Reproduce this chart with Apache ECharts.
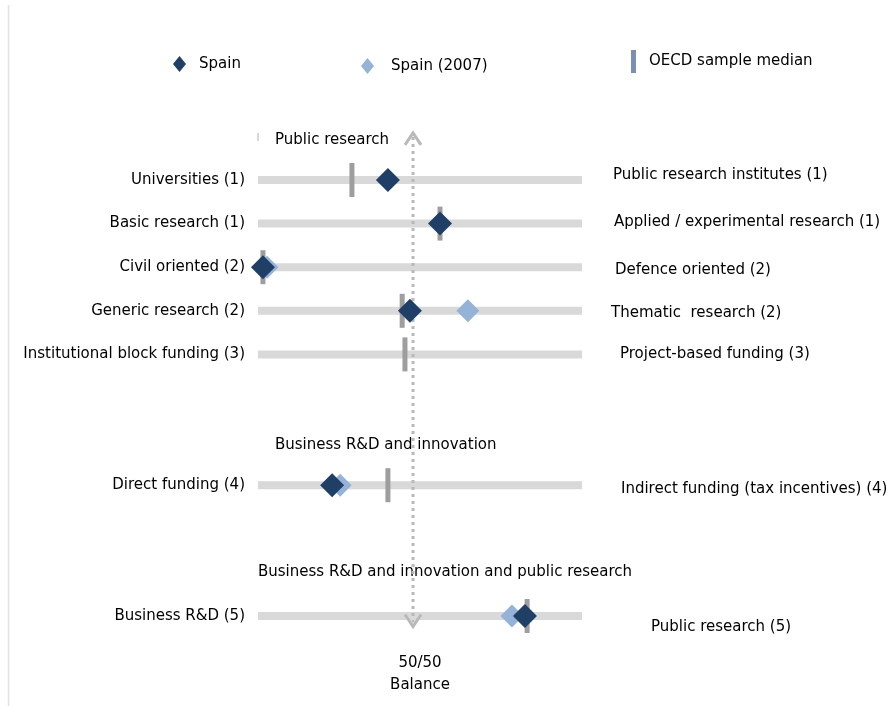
<!DOCTYPE html>
<html>
<head>
<meta charset="utf-8">
<title>Spain - balance of public research funding</title>
<script src="https://cdn.jsdelivr.net/npm/echarts@6/dist/echarts.min.js"></script>
<style>
  html, body { margin: 0; padding: 0; background: #fff; }
  #chart { width: 892px; height: 706px; }
</style>
</head>
<body>
<div id="chart"></div>
<script>
// rows of the chart (left = one end of the scale, right = the other)
var leftLabels = ['Universities (1)', 'Basic research (1)', 'Civil oriented (2)', 'Generic research (2)',
  'Institutional block funding (3)', 'Direct funding (4)', 'Business R&D (5)'];
var rightLabels = ['Public research institutes (1)', 'Applied / experimental research (1)', 'Defence oriented (2)',
  'Thematic  research (2)', 'Project-based funding (3)', 'Indirect funding (tax incentives) (4)', 'Public research (5)'];
var rowPos = [0, 1, 2, 3, 4, 7, 10];

// position on the scale, 50 = 50/50 balance
var spain = [41.9, 58.7, 1.6, 49.0, null, 23.9, 86.1];
var spain2007 = [null, null, 2.9, 67.7, null, 26.5, 81.9];
var oecdMedian = [30.3, 58.7, 1.6, 46.5, 47.4, 41.9, 86.8];

var sections = ['Public research', 'Business R&D and innovation', 'Business R&D and innovation and public research'];

var scaleMax = 104.5;
var font = 'DejaVu Sans, sans-serif';

function pts(vals) {
  var out = [];
  for (var i = 0; i < vals.length; i++) {
    if (vals[i] != null) out.push([vals[i], rowPos[i]]);
  }
  return out;
}

var chart = echarts.init(document.getElementById('chart'));

// right hand labels and headings (layout)
var rightPos = [[613, 175], [614, 222], [615, 270], [611, 313], [620, 354], [621, 489], [651, 627]];
var graphics = [];
for (var i = 0; i < rightLabels.length; i++) {
  graphics.push({
    type: 'text', x: rightPos[i][0], y: rightPos[i][1],
    style: { text: rightLabels[i], fill: '#000', font: '15px ' + font, verticalAlign: 'middle' }
  });
}
var secPos = [[275, 140], [275, 445], [258, 572]];
for (var i = 0; i < sections.length; i++) {
  graphics.push({
    type: 'text', x: secPos[i][0], y: secPos[i][1],
    style: { text: sections[i], fill: '#000', font: '15px ' + font, verticalAlign: 'middle' }
  });
}
graphics.push({
  type: 'text', x: 420, y: 652,
  style: { text: '50/50\nBalance', fill: '#000', font: '15px ' + font, align: 'center', lineHeight: 22 }
});
// left frame line and small tick by the first heading
graphics.push({ type: 'line', shape: { x1: 8.5, y1: 5, x2: 8.5, y2: 706 }, style: { stroke: '#e2e2e2', lineWidth: 1.5 } });
graphics.push({ type: 'rect', shape: { x: 257, y: 133, width: 2, height: 8 }, style: { fill: '#d8d8d8' } });

var option = {
  animation: false,
  backgroundColor: '#fff',
  grid: { left: 258, width: 324, top: 114.6, height: 545 },
  xAxis: { type: 'value', min: 0, max: scaleMax, show: false },
  yAxis: { type: 'value', min: -1.5, max: 11, inverse: true, show: false },
  legend: [
    { left: 168, top: 51, itemWidth: 13, itemHeight: 16, data: [{ name: 'Spain', icon: 'diamond' }],
      textStyle: { fontSize: 15, fontFamily: font, color: '#000', padding: [0, 0, 0, 8] } },
    { left: 356, top: 53, itemWidth: 13, itemHeight: 16, data: [{ name: 'Spain (2007)', icon: 'diamond' }],
      textStyle: { fontSize: 15, fontFamily: font, color: '#000', padding: [0, 0, 0, 12] } },
    { left: 626, top: 45, itemWidth: 5, itemHeight: 23,
      data: [{ name: 'OECD sample median', icon: 'rect', itemStyle: { color: '#7b8fb3' } }],
      textStyle: { fontSize: 15, fontFamily: font, color: '#000', padding: [0, 0, 0, 8] } }
  ],
  graphic: graphics,
  series: [
    {
      // grey tracks
      type: 'custom', silent: true, z: 1,
      data: rowPos.map(function (r) { return [0, r]; }),
      renderItem: function (params, api) {
        var a = api.coord([0, api.value(1)]);
        var b = api.coord([scaleMax, api.value(1)]);
        return { type: 'rect', shape: { x: a[0], y: a[1] - 4, width: b[0] - a[0], height: 8 }, style: { fill: '#d9d9d9' } };
      }
    },
    {
      // row labels on the left
      type: 'scatter', silent: true, z: 1, symbolSize: 0,
      itemStyle: { opacity: 1 },
      data: leftLabels.map(function (t, i) { return { value: [0, rowPos[i]], name: t }; }),
      label: { show: true, position: 'left', distance: 13, formatter: '{b}', fontSize: 15, fontFamily: font, color: '#000', opacity: 1 }
    },
    {
      name: 'OECD sample median', type: 'scatter', z: 2,
      symbol: 'rect', symbolSize: [5, 34],
      itemStyle: { color: '#9e9e9e', opacity: 1 },
      data: pts(oecdMedian)
    },
    {
      // 50/50 balance arrow
      type: 'custom', silent: true, z: 3,
      data: [[50, -1.08, 10.24]],
      renderItem: function (params, api) {
        var t = api.coord([api.value(0), api.value(1)]);
        var b = api.coord([api.value(0), api.value(2)]);
        var c = '#b9b9b9';
        return {
          type: 'group',
          children: [
            { type: 'line', shape: { x1: t[0], y1: t[1] + 4, x2: b[0], y2: b[1] - 4 },
              style: { stroke: c, lineWidth: 3, lineDash: [3, 4] } },
            { type: 'polyline', shape: { points: [[t[0] - 8, t[1] + 12], [t[0], t[1]], [t[0] + 8, t[1] + 12]] },
              style: { stroke: c, lineWidth: 3, fill: null } },
            { type: 'polyline', shape: { points: [[b[0] - 8, b[1] - 12], [b[0], b[1]], [b[0] + 8, b[1] - 12]] },
              style: { stroke: c, lineWidth: 3, fill: null } }
          ]
        };
      }
    },
    {
      name: 'Spain (2007)', type: 'scatter', z: 4,
      symbol: 'diamond', symbolSize: [23, 23],
      itemStyle: { color: '#95b3d7', opacity: 1 },
      data: pts(spain2007)
    },
    {
      name: 'Spain', type: 'scatter', z: 5,
      symbol: 'diamond', symbolSize: [24, 24],
      itemStyle: { color: '#1f3f66', opacity: 1 },
      data: pts(spain)
    }
  ]
};

chart.setOption(option);
</script>
</body>
</html>
